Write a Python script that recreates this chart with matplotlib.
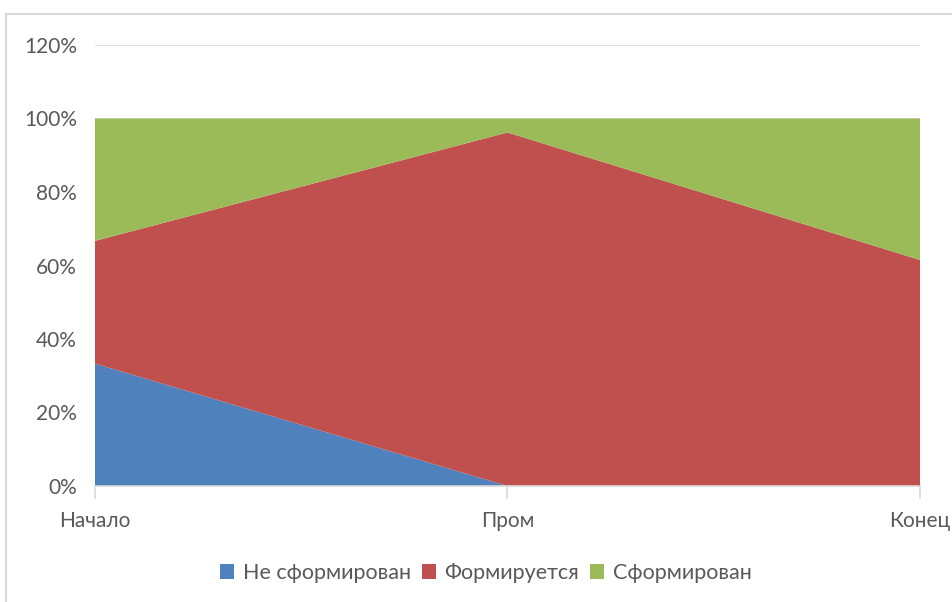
import numpy as np
import matplotlib
matplotlib.use('Agg')
from matplotlib import pyplot as plt
from matplotlib.patches import Rectangle

plt.rcParams['font.family'] = ['Lato', 'DejaVu Sans']

# данные (доли)
stages = ['Начало', 'Пром', 'Конец']
ne_sform = [0.333, 0.0, 0.0]
formir = [0.334, 0.962, 0.615]
sform = [0.333, 0.038, 0.385]
names = ['Не сформирован', 'Формируется', 'Сформирован']
colors = ['#4F81BD', '#C0504D', '#9BBB59']

fig = plt.figure(figsize=(9.53, 6.02), dpi=100)
ax = fig.add_axes([95 / 953, 1 - 486 / 602, 825 / 953, 441 / 602])

# рамка диаграммы
fig.patches.append(Rectangle((6 / 953, -0.05), 1.0, 1 - 14 / 602 + 0.05,
                             transform=fig.transFigure, fill=False,
                             edgecolor='#D9D9D9', linewidth=1.5))

x = np.arange(len(stages))
ax.stackplot(x, ne_sform, formir, sform, labels=names, colors=colors, zorder=2)

ax.set_xlim(0, 2)
ax.set_ylim(0, 1.2)
ax.set_yticks(np.arange(0, 1.21, 0.2))
ax.set_yticklabels(['%d%%' % round(v * 100) for v in np.arange(0, 1.21, 0.2)])
ax.yaxis.grid(True, color='#D9D9D9', linewidth=1.2, zorder=0)
ax.set_axisbelow(True)
ax.tick_params(axis='y', length=0, pad=13, labelsize=15, labelcolor='#595959')
ax.set_xticks(x)
ax.set_xticklabels(stages)
ax.tick_params(axis='x', length=9, color='#D9D9D9', width=1.2, pad=9,
               labelsize=15, labelcolor='#595959')

for s in ['top', 'right', 'left']:
    ax.spines[s].set_visible(False)
ax.spines['bottom'].set_color('#D9D9D9')
ax.spines['bottom'].set_linewidth(1.2)

leg = fig.legend(loc='center', bbox_to_anchor=(486 / 953, 1 - 573 / 602),
                 ncol=3, frameon=False, fontsize=15.5, handlelength=0.65,
                 handleheight=0.65, handletextpad=0.4, columnspacing=0.5)
for t in leg.get_texts():
    t.set_color('#595959')

fig.savefig('out.png', dpi=100)
